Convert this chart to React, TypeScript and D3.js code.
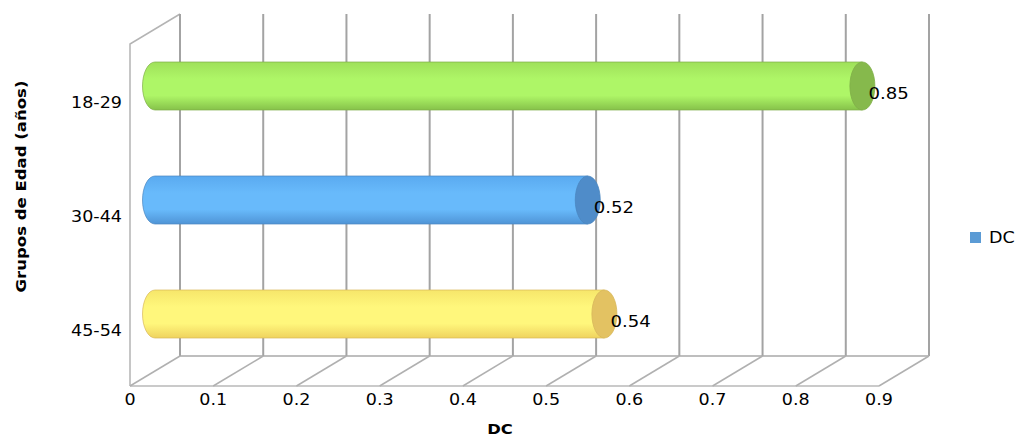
import React from "react";
import * as d3 from "d3";

const categories = ["18-29", "30-44", "45-54"];
const values = [0.85, 0.52, 0.54];
const ticks = [0, 0.1, 0.2, 0.3, 0.4, 0.5, 0.6, 0.7, 0.8, 0.9];
const tickLabels = ["0", "0.1", "0.2", "0.3", "0.4", "0.5", "0.6", "0.7", "0.8", "0.9"];
const seriesName = "DC";
const yTitle = "Grupos de Edad (años)";

// body top / mid / bottom, end cap
const palettes = [
  { top: "#9fe05a", mid: "#aef667", bot: "#86c24a", cap: "#86b94c", edge: "#7fae48" },
  { top: "#5aaaf0", mid: "#68bafb", bot: "#4f94d6", cap: "#4f8cc9", edge: "#4a86c0" },
  { top: "#f6e66a", mid: "#fff77c", bot: "#efd35e", cap: "#e3c262", edge: "#d8b85a" },
];

const W = 1016;
const H = 438;
const FRONT_LEFT = 130;
const FRONT_RIGHT = 879;
const TOP = 44;
const FLOOR = 386;
const DX = 50;
const DY = -30;
const SX = 1.17;
const FONT = "'DejaVu Sans', Verdana, sans-serif";

function SText({ x, y, size, anchor = "start", weight = "normal", children }: any) {
  return (
    <text
      transform={`translate(${x},${y}) scale(${SX},1)`}
      fontSize={size}
      fontFamily={FONT}
      fontWeight={weight}
      textAnchor={anchor}
      fill="#000"
    >
      {children}
    </text>
  );
}

export default function App() {
  const x = d3.scaleLinear().domain([0, 0.9]).range([FRONT_LEFT, FRONT_RIGHT]);
  const y = d3.scaleBand().domain(categories).range([TOP, FLOOR]);
  const ry = 24;
  const rx = 12.5;

  return (
    <svg
      width={W}
      height={H}
      style={{ position: "absolute", left: 0, top: 0, background: "#fff" }}
    >
      <defs>
        {palettes.map((p, i) => (
          <linearGradient key={i} id={`body${i}`} x1="0" y1="0" x2="0" y2="1">
            <stop offset="0" stopColor={p.top} />
            <stop offset="0.35" stopColor={p.mid} />
            <stop offset="0.7" stopColor={p.mid} />
            <stop offset="1" stopColor={p.bot} />
          </linearGradient>
        ))}
      </defs>

      {/* left side wall */}
      <path
        d={`M${FRONT_LEFT},${FLOOR} L${FRONT_LEFT},${TOP} L${FRONT_LEFT + DX},${TOP + DY}`}
        fill="none"
        stroke="#b4b4b4"
        strokeWidth={1.5}
      />
      {/* back wall gridlines */}
      {ticks.map((t) => (
        <line
          key={`g${t}`}
          x1={x(t) + DX}
          x2={x(t) + DX}
          y1={TOP + DY}
          y2={FLOOR + DY}
          stroke="#a3a3a3"
          strokeWidth={2}
        />
      ))}
      {/* floor */}
      <line
        x1={x(0) + DX}
        x2={x(0.9) + DX}
        y1={FLOOR + DY}
        y2={FLOOR + DY}
        stroke="#a8a8a8"
        strokeWidth={1.5}
      />
      <line
        x1={x(0)}
        x2={x(0.9)}
        y1={FLOOR}
        y2={FLOOR}
        stroke="#b8b8b8"
        strokeWidth={1.5}
      />
      {ticks.map((t) => (
        <line
          key={`f${t}`}
          x1={x(t)}
          x2={x(t) + DX}
          y1={FLOOR}
          y2={FLOOR + DY}
          stroke="#b0b0b0"
          strokeWidth={1.5}
        />
      ))}

      {/* cylinders at mid depth */}
      {categories.map((c, i) => {
        const cy = (y(c) as number) + y.bandwidth() / 2 + DY / 2;
        const xl = x(0) + DX / 2;
        const xr = x(values[i]) + DX / 2;
        const p = palettes[i];
        const body = `M${xr},${cy - ry} L${xl},${cy - ry} A${rx},${ry} 0 0 0 ${xl},${cy + ry} L${xr},${cy + ry} Z`;
        return (
          <g key={c}>
            <path d={body} fill={`url(#body${i})`} stroke={p.edge} strokeWidth={1} strokeOpacity={0.7} />
            <ellipse cx={xr} cy={cy} rx={rx} ry={ry} fill={p.cap} stroke={p.edge} strokeWidth={0.8} />
            <SText x={xr + 6} y={cy + 13} size={15.5}>
              {values[i].toFixed(2)}
            </SText>
          </g>
        );
      })}

      {/* category labels */}
      {categories.map((c) => (
        <SText key={c} x={122} y={(y(c) as number) + y.bandwidth() / 2 + 7} size={15} anchor="end">
          {c}
        </SText>
      ))}

      {/* value axis labels */}
      {ticks.map((t, i) => (
        <SText key={`t${t}`} x={x(t)} y={405} size={15} anchor="middle">
          {tickLabels[i]}
        </SText>
      ))}

      {/* axis titles */}
      <SText x={500} y={434} size={14} anchor="middle" weight="bold">
        {seriesName}
      </SText>
      <text
        transform="translate(26,186.5) rotate(-90)"
        fontSize={14.5}
        fontFamily={FONT}
        fontWeight="bold"
        textAnchor="middle"
        textLength={212}
        lengthAdjust="spacingAndGlyphs"
        fill="#000"
      >
        {yTitle}
      </text>

      {/* legend */}
      <rect x={970} y={232} width={11} height={11} fill="#5b9bd5" />
      <SText x={989} y={243} size={15}>
        {seriesName}
      </SText>
    </svg>
  );
}
